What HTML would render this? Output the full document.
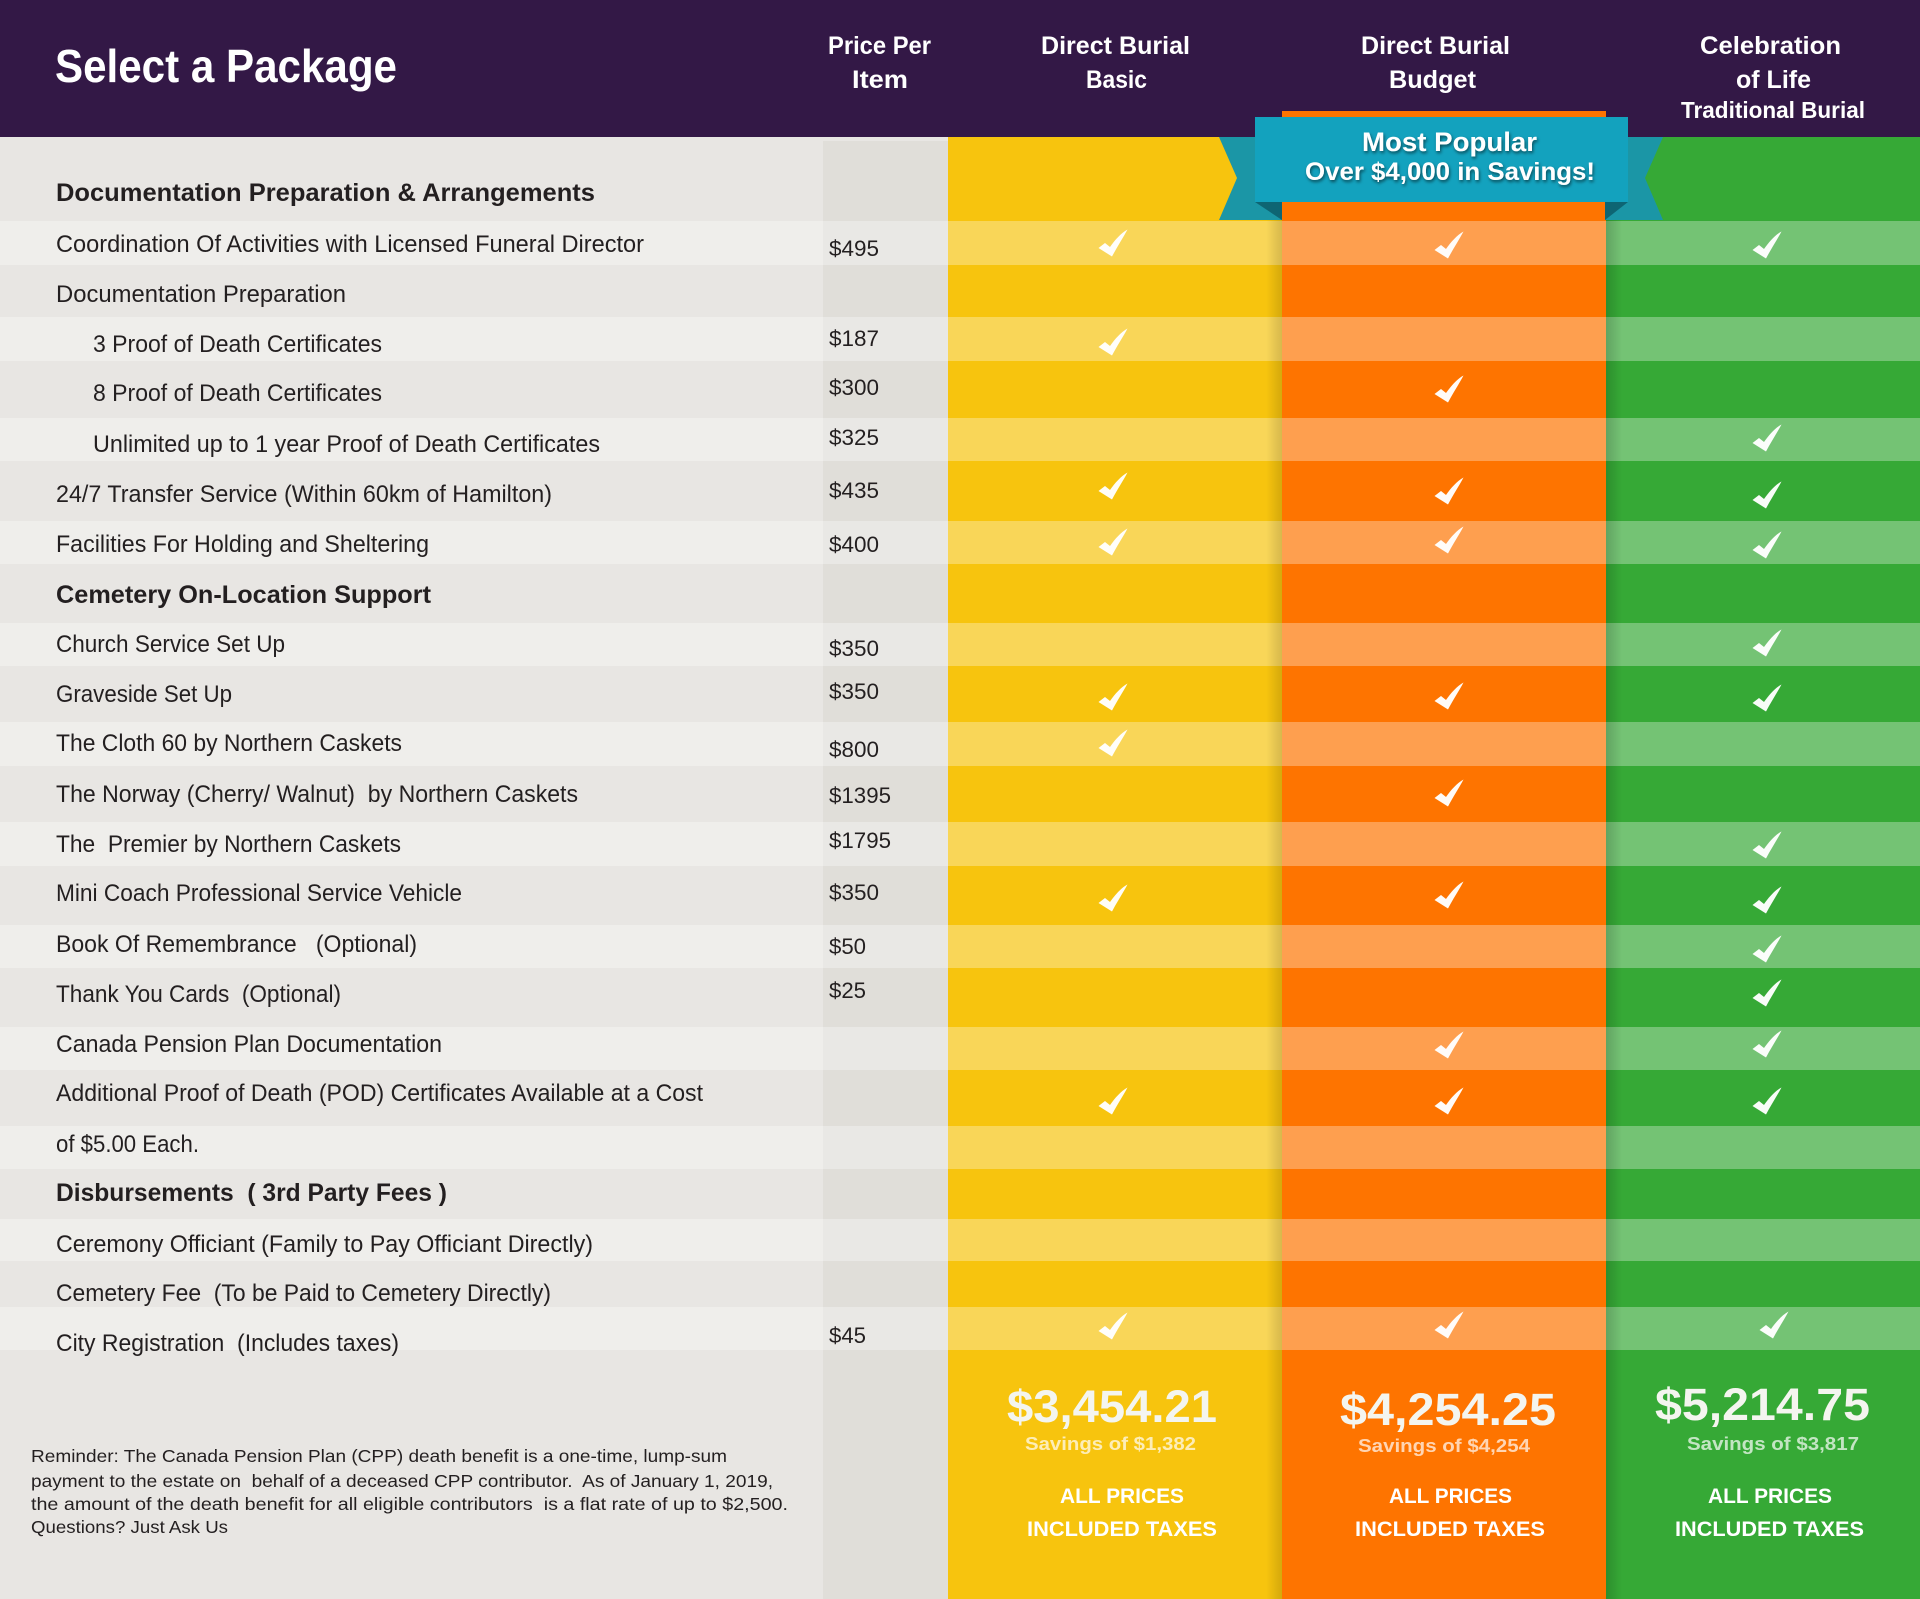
<!DOCTYPE html>
<html><head><meta charset="utf-8"><style>
html,body{margin:0;padding:0;width:1920px;height:1599px;overflow:hidden;background:#E8E6E3}
svg{display:block}
text{font-family:"Liberation Sans",sans-serif}
</style></head><body>
<svg width="1920" height="1599" viewBox="0 0 1920 1599" xmlns="http://www.w3.org/2000/svg">
<defs>
<linearGradient id="shL" x1="0" x2="1" y1="0" y2="0"><stop offset="0" stop-color="#000" stop-opacity="0"/><stop offset="1" stop-color="#000" stop-opacity="0.14"/></linearGradient>
<linearGradient id="shR" x1="0" x2="1" y1="0" y2="0"><stop offset="0" stop-color="#000" stop-opacity="0.16"/><stop offset="1" stop-color="#000" stop-opacity="0"/></linearGradient>
<filter id="ds" x="-10%" y="-40%" width="120%" height="180%"><feDropShadow dx="1" dy="2" stdDeviation="1.5" flood-color="#000" flood-opacity="0.55"/></filter>
</defs>

<rect x="0" y="0" width="1920" height="137" fill="#331846"/>
<rect x="0" y="137" width="823" height="1462" fill="#E8E6E3"/>
<rect x="823" y="141" width="125" height="1458" fill="#E0DED9"/>
<rect x="948" y="137" width="334" height="1462" fill="#F7C40E"/>
<rect x="1282" y="111" width="324" height="1488" fill="#FE7400"/>
<rect x="1606" y="137" width="314" height="1462" fill="#36A936"/>

<g fill="#fff" fill-opacity="0.31">
<rect x="0" y="221" width="1920" height="44"/>
<rect x="0" y="317" width="1920" height="44"/>
<rect x="0" y="418" width="1920" height="43"/>
<rect x="0" y="521" width="1920" height="43"/>
<rect x="0" y="623" width="1920" height="43"/>
<rect x="0" y="722" width="1920" height="44"/>
<rect x="0" y="822" width="1920" height="44"/>
<rect x="0" y="925" width="1920" height="43"/>
<rect x="0" y="1027" width="1920" height="43"/>
<rect x="0" y="1126" width="1920" height="43"/>
<rect x="0" y="1219" width="1920" height="42"/>
<rect x="0" y="1307" width="1920" height="43"/>
</g>

<rect x="1266" y="137" width="16" height="1462" fill="url(#shL)"/>
<rect x="1606" y="137" width="16" height="1462" fill="url(#shR)"/>

<polygon points="1219,137 1282,137 1282,220 1219,220 1237,178" fill="#1B96A6"/>
<polygon points="1605,137 1663,137 1645,178 1663,220 1605,220" fill="#1B96A6"/>
<polygon points="1255,202 1282,202 1282,220" fill="#0E6573"/>
<polygon points="1628,202 1605,202 1605,220" fill="#0E6573"/>
<rect x="1255" y="117" width="373" height="85" fill="#13A2BE"/>
<g fill="#fff" font-weight="bold" filter="url(#ds)">
<text x="1362" y="151" font-size="27" textLength="175" lengthAdjust="spacingAndGlyphs">Most Popular</text>
<text x="1305" y="180" font-size="25" textLength="290" lengthAdjust="spacingAndGlyphs">Over $4,000 in Savings!</text>
</g>

<g fill="#fff" font-weight="bold">
<text x="55" y="82" font-size="46" textLength="342" lengthAdjust="spacingAndGlyphs">Select a Package</text>
<text x="828" y="54" font-size="25" textLength="103" lengthAdjust="spacingAndGlyphs">Price Per</text>
<text x="852" y="88" font-size="25" textLength="56" lengthAdjust="spacingAndGlyphs">Item</text>
<text x="1041" y="54" font-size="25" textLength="149" lengthAdjust="spacingAndGlyphs">Direct Burial</text>
<text x="1086" y="88" font-size="25" textLength="61" lengthAdjust="spacingAndGlyphs">Basic</text>
<text x="1361" y="54" font-size="25" textLength="149" lengthAdjust="spacingAndGlyphs">Direct Burial</text>
<text x="1389" y="88" font-size="25" textLength="87" lengthAdjust="spacingAndGlyphs">Budget</text>
<text x="1700" y="54" font-size="25" textLength="141" lengthAdjust="spacingAndGlyphs">Celebration</text>
<text x="1736" y="88" font-size="25" textLength="75" lengthAdjust="spacingAndGlyphs">of Life</text>
<text x="1681" y="118" font-size="23" textLength="184" lengthAdjust="spacingAndGlyphs">Traditional Burial</text>
</g>

<g fill="#231F20" font-size="24">
<text x="56" y="201" font-size="25" font-weight="bold" textLength="539" lengthAdjust="spacingAndGlyphs">Documentation Preparation &amp; Arrangements</text>
<text x="56" y="252" textLength="588" lengthAdjust="spacingAndGlyphs">Coordination Of Activities with Licensed Funeral Director</text>
<text x="56" y="302" textLength="290" lengthAdjust="spacingAndGlyphs">Documentation Preparation</text>
<text x="93" y="352" textLength="289" lengthAdjust="spacingAndGlyphs">3 Proof of Death Certificates</text>
<text x="93" y="401" textLength="289" lengthAdjust="spacingAndGlyphs">8 Proof of Death Certificates</text>
<text x="93" y="452" textLength="507" lengthAdjust="spacingAndGlyphs">Unlimited up to 1 year Proof of Death Certificates</text>
<text x="56" y="502" textLength="496" lengthAdjust="spacingAndGlyphs">24/7 Transfer Service (Within 60km of Hamilton)</text>
<text x="56" y="552" textLength="373" lengthAdjust="spacingAndGlyphs">Facilities For Holding and Sheltering</text>
<text x="56" y="603" font-size="25" font-weight="bold" textLength="375" lengthAdjust="spacingAndGlyphs">Cemetery On-Location Support</text>
<text x="56" y="652" textLength="229" lengthAdjust="spacingAndGlyphs">Church Service Set Up</text>
<text x="56" y="702" textLength="176" lengthAdjust="spacingAndGlyphs">Graveside Set Up</text>
<text x="56" y="751" textLength="346" lengthAdjust="spacingAndGlyphs">The Cloth 60 by Northern Caskets</text>
<text x="56" y="802" textLength="522" lengthAdjust="spacingAndGlyphs">The Norway (Cherry/ Walnut)&#160; by Northern Caskets</text>
<text x="56" y="852" textLength="345" lengthAdjust="spacingAndGlyphs">The&#160; Premier by Northern Caskets</text>
<text x="56" y="901" textLength="406" lengthAdjust="spacingAndGlyphs">Mini Coach Professional Service Vehicle</text>
<text x="56" y="952" textLength="361" lengthAdjust="spacingAndGlyphs">Book Of Remembrance&#160;&#160; (Optional)</text>
<text x="56" y="1002" textLength="285" lengthAdjust="spacingAndGlyphs">Thank You Cards&#160; (Optional)</text>
<text x="56" y="1052" textLength="386" lengthAdjust="spacingAndGlyphs">Canada Pension Plan Documentation</text>
<text x="56" y="1101" textLength="647" lengthAdjust="spacingAndGlyphs">Additional Proof of Death (POD) Certificates Available at a Cost</text>
<text x="56" y="1152" textLength="143" lengthAdjust="spacingAndGlyphs">of $5.00 Each.</text>
<text x="56" y="1201" font-size="25" font-weight="bold" textLength="391" lengthAdjust="spacingAndGlyphs">Disbursements&#160; ( 3rd Party Fees )</text>
<text x="56" y="1252" textLength="537" lengthAdjust="spacingAndGlyphs">Ceremony Officiant (Family to Pay Officiant Directly)</text>
<text x="56" y="1301" textLength="495" lengthAdjust="spacingAndGlyphs">Cemetery Fee&#160; (To be Paid to Cemetery Directly)</text>
<text x="56" y="1351" textLength="343" lengthAdjust="spacingAndGlyphs">City Registration&#160; (Includes taxes)</text>
</g>

<g fill="#231F20" font-size="22">
<text x="829" y="256" textLength="50" lengthAdjust="spacingAndGlyphs">$495</text>
<text x="829" y="346" textLength="50" lengthAdjust="spacingAndGlyphs">$187</text>
<text x="829" y="395" textLength="50" lengthAdjust="spacingAndGlyphs">$300</text>
<text x="829" y="445" textLength="50" lengthAdjust="spacingAndGlyphs">$325</text>
<text x="829" y="498" textLength="50" lengthAdjust="spacingAndGlyphs">$435</text>
<text x="829" y="552" textLength="50" lengthAdjust="spacingAndGlyphs">$400</text>
<text x="829" y="656" textLength="50" lengthAdjust="spacingAndGlyphs">$350</text>
<text x="829" y="699" textLength="50" lengthAdjust="spacingAndGlyphs">$350</text>
<text x="829" y="757" textLength="50" lengthAdjust="spacingAndGlyphs">$800</text>
<text x="829" y="803" textLength="62" lengthAdjust="spacingAndGlyphs">$1395</text>
<text x="829" y="848" textLength="62" lengthAdjust="spacingAndGlyphs">$1795</text>
<text x="829" y="900" textLength="50" lengthAdjust="spacingAndGlyphs">$350</text>
<text x="829" y="954" textLength="37" lengthAdjust="spacingAndGlyphs">$50</text>
<text x="829" y="998" textLength="37" lengthAdjust="spacingAndGlyphs">$25</text>
<text x="829" y="1343" textLength="37" lengthAdjust="spacingAndGlyphs">$45</text>
</g>

<g fill="#231F20" font-size="17.5">
<text x="31" y="1462" textLength="696" lengthAdjust="spacingAndGlyphs">Reminder: The Canada Pension Plan (CPP) death benefit is a one-time, lump-sum</text>
<text x="31" y="1487" textLength="742" lengthAdjust="spacingAndGlyphs">payment to the estate on&#160; behalf of a deceased CPP contributor.&#160; As of January 1, 2019,</text>
<text x="31" y="1510" textLength="757" lengthAdjust="spacingAndGlyphs">the amount of the death benefit for all eligible contributors&#160; is a flat rate of up to $2,500.</text>
<text x="31" y="1533" textLength="197" lengthAdjust="spacingAndGlyphs">Questions? Just Ask Us</text>
</g>

<g font-weight="bold">
<text x="1007" y="1422" font-size="45" fill="#F4F5EF" textLength="210" lengthAdjust="spacingAndGlyphs">$3,454.21</text>
<text x="1025" y="1450" font-size="18" fill="#fff" fill-opacity="0.7" textLength="171" lengthAdjust="spacingAndGlyphs">Savings of $1,382</text>
<text x="1060" y="1503" font-size="21" fill="#fff" textLength="124" lengthAdjust="spacingAndGlyphs">ALL PRICES</text>
<text x="1027" y="1536" font-size="21" fill="#fff" textLength="190" lengthAdjust="spacingAndGlyphs">INCLUDED TAXES</text>

<text x="1340" y="1425" font-size="45" fill="#F4F5EF" textLength="216" lengthAdjust="spacingAndGlyphs">$4,254.25</text>
<text x="1358" y="1452" font-size="18" fill="#fff" fill-opacity="0.7" textLength="172" lengthAdjust="spacingAndGlyphs">Savings of $4,254</text>
<text x="1389" y="1503" font-size="21" fill="#fff" textLength="123" lengthAdjust="spacingAndGlyphs">ALL PRICES</text>
<text x="1355" y="1536" font-size="21" fill="#fff" textLength="190" lengthAdjust="spacingAndGlyphs">INCLUDED TAXES</text>

<text x="1655" y="1420" font-size="45" fill="#F4F5EF" textLength="215" lengthAdjust="spacingAndGlyphs">$5,214.75</text>
<text x="1687" y="1450" font-size="18" fill="#fff" fill-opacity="0.7" textLength="172" lengthAdjust="spacingAndGlyphs">Savings of $3,817</text>
<text x="1708" y="1503" font-size="21" fill="#fff" textLength="124" lengthAdjust="spacingAndGlyphs">ALL PRICES</text>
<text x="1675" y="1536" font-size="21" fill="#fff" textLength="189" lengthAdjust="spacingAndGlyphs">INCLUDED TAXES</text>
</g>

<g fill="#fff" fill-opacity="0.97">
<path transform="translate(1113,243)" d="M-14.5,5 L-8,0 L-3,4 C2,-3 8,-10 14.5,-13.5 C10,-5 4,4 -1,13.5 Z"/>
<path transform="translate(1113,342)" d="M-14.5,5 L-8,0 L-3,4 C2,-3 8,-10 14.5,-13.5 C10,-5 4,4 -1,13.5 Z"/>
<path transform="translate(1113,486)" d="M-14.5,5 L-8,0 L-3,4 C2,-3 8,-10 14.5,-13.5 C10,-5 4,4 -1,13.5 Z"/>
<path transform="translate(1113,542)" d="M-14.5,5 L-8,0 L-3,4 C2,-3 8,-10 14.5,-13.5 C10,-5 4,4 -1,13.5 Z"/>
<path transform="translate(1113,697)" d="M-14.5,5 L-8,0 L-3,4 C2,-3 8,-10 14.5,-13.5 C10,-5 4,4 -1,13.5 Z"/>
<path transform="translate(1113,743)" d="M-14.5,5 L-8,0 L-3,4 C2,-3 8,-10 14.5,-13.5 C10,-5 4,4 -1,13.5 Z"/>
<path transform="translate(1113,898)" d="M-14.5,5 L-8,0 L-3,4 C2,-3 8,-10 14.5,-13.5 C10,-5 4,4 -1,13.5 Z"/>
<path transform="translate(1113,1101)" d="M-14.5,5 L-8,0 L-3,4 C2,-3 8,-10 14.5,-13.5 C10,-5 4,4 -1,13.5 Z"/>
<path transform="translate(1113,1326)" d="M-14.5,5 L-8,0 L-3,4 C2,-3 8,-10 14.5,-13.5 C10,-5 4,4 -1,13.5 Z"/>
<path transform="translate(1449,245)" d="M-14.5,5 L-8,0 L-3,4 C2,-3 8,-10 14.5,-13.5 C10,-5 4,4 -1,13.5 Z"/>
<path transform="translate(1449,389)" d="M-14.5,5 L-8,0 L-3,4 C2,-3 8,-10 14.5,-13.5 C10,-5 4,4 -1,13.5 Z"/>
<path transform="translate(1449,491)" d="M-14.5,5 L-8,0 L-3,4 C2,-3 8,-10 14.5,-13.5 C10,-5 4,4 -1,13.5 Z"/>
<path transform="translate(1449,540)" d="M-14.5,5 L-8,0 L-3,4 C2,-3 8,-10 14.5,-13.5 C10,-5 4,4 -1,13.5 Z"/>
<path transform="translate(1449,696)" d="M-14.5,5 L-8,0 L-3,4 C2,-3 8,-10 14.5,-13.5 C10,-5 4,4 -1,13.5 Z"/>
<path transform="translate(1449,793)" d="M-14.5,5 L-8,0 L-3,4 C2,-3 8,-10 14.5,-13.5 C10,-5 4,4 -1,13.5 Z"/>
<path transform="translate(1449,895)" d="M-14.5,5 L-8,0 L-3,4 C2,-3 8,-10 14.5,-13.5 C10,-5 4,4 -1,13.5 Z"/>
<path transform="translate(1449,1045)" d="M-14.5,5 L-8,0 L-3,4 C2,-3 8,-10 14.5,-13.5 C10,-5 4,4 -1,13.5 Z"/>
<path transform="translate(1449,1101)" d="M-14.5,5 L-8,0 L-3,4 C2,-3 8,-10 14.5,-13.5 C10,-5 4,4 -1,13.5 Z"/>
<path transform="translate(1449,1325)" d="M-14.5,5 L-8,0 L-3,4 C2,-3 8,-10 14.5,-13.5 C10,-5 4,4 -1,13.5 Z"/>
<path transform="translate(1767,245)" d="M-14.5,5 L-8,0 L-3,4 C2,-3 8,-10 14.5,-13.5 C10,-5 4,4 -1,13.5 Z"/>
<path transform="translate(1767,438)" d="M-14.5,5 L-8,0 L-3,4 C2,-3 8,-10 14.5,-13.5 C10,-5 4,4 -1,13.5 Z"/>
<path transform="translate(1767,495)" d="M-14.5,5 L-8,0 L-3,4 C2,-3 8,-10 14.5,-13.5 C10,-5 4,4 -1,13.5 Z"/>
<path transform="translate(1767,545)" d="M-14.5,5 L-8,0 L-3,4 C2,-3 8,-10 14.5,-13.5 C10,-5 4,4 -1,13.5 Z"/>
<path transform="translate(1767,643)" d="M-14.5,5 L-8,0 L-3,4 C2,-3 8,-10 14.5,-13.5 C10,-5 4,4 -1,13.5 Z"/>
<path transform="translate(1767,698)" d="M-14.5,5 L-8,0 L-3,4 C2,-3 8,-10 14.5,-13.5 C10,-5 4,4 -1,13.5 Z"/>
<path transform="translate(1767,845)" d="M-14.5,5 L-8,0 L-3,4 C2,-3 8,-10 14.5,-13.5 C10,-5 4,4 -1,13.5 Z"/>
<path transform="translate(1767,900)" d="M-14.5,5 L-8,0 L-3,4 C2,-3 8,-10 14.5,-13.5 C10,-5 4,4 -1,13.5 Z"/>
<path transform="translate(1767,949)" d="M-14.5,5 L-8,0 L-3,4 C2,-3 8,-10 14.5,-13.5 C10,-5 4,4 -1,13.5 Z"/>
<path transform="translate(1767,993)" d="M-14.5,5 L-8,0 L-3,4 C2,-3 8,-10 14.5,-13.5 C10,-5 4,4 -1,13.5 Z"/>
<path transform="translate(1767,1044)" d="M-14.5,5 L-8,0 L-3,4 C2,-3 8,-10 14.5,-13.5 C10,-5 4,4 -1,13.5 Z"/>
<path transform="translate(1767,1101)" d="M-14.5,5 L-8,0 L-3,4 C2,-3 8,-10 14.5,-13.5 C10,-5 4,4 -1,13.5 Z"/>
<path transform="translate(1774,1325)" d="M-14.5,5 L-8,0 L-3,4 C2,-3 8,-10 14.5,-13.5 C10,-5 4,4 -1,13.5 Z"/>
</g>
</svg>
</body></html>
